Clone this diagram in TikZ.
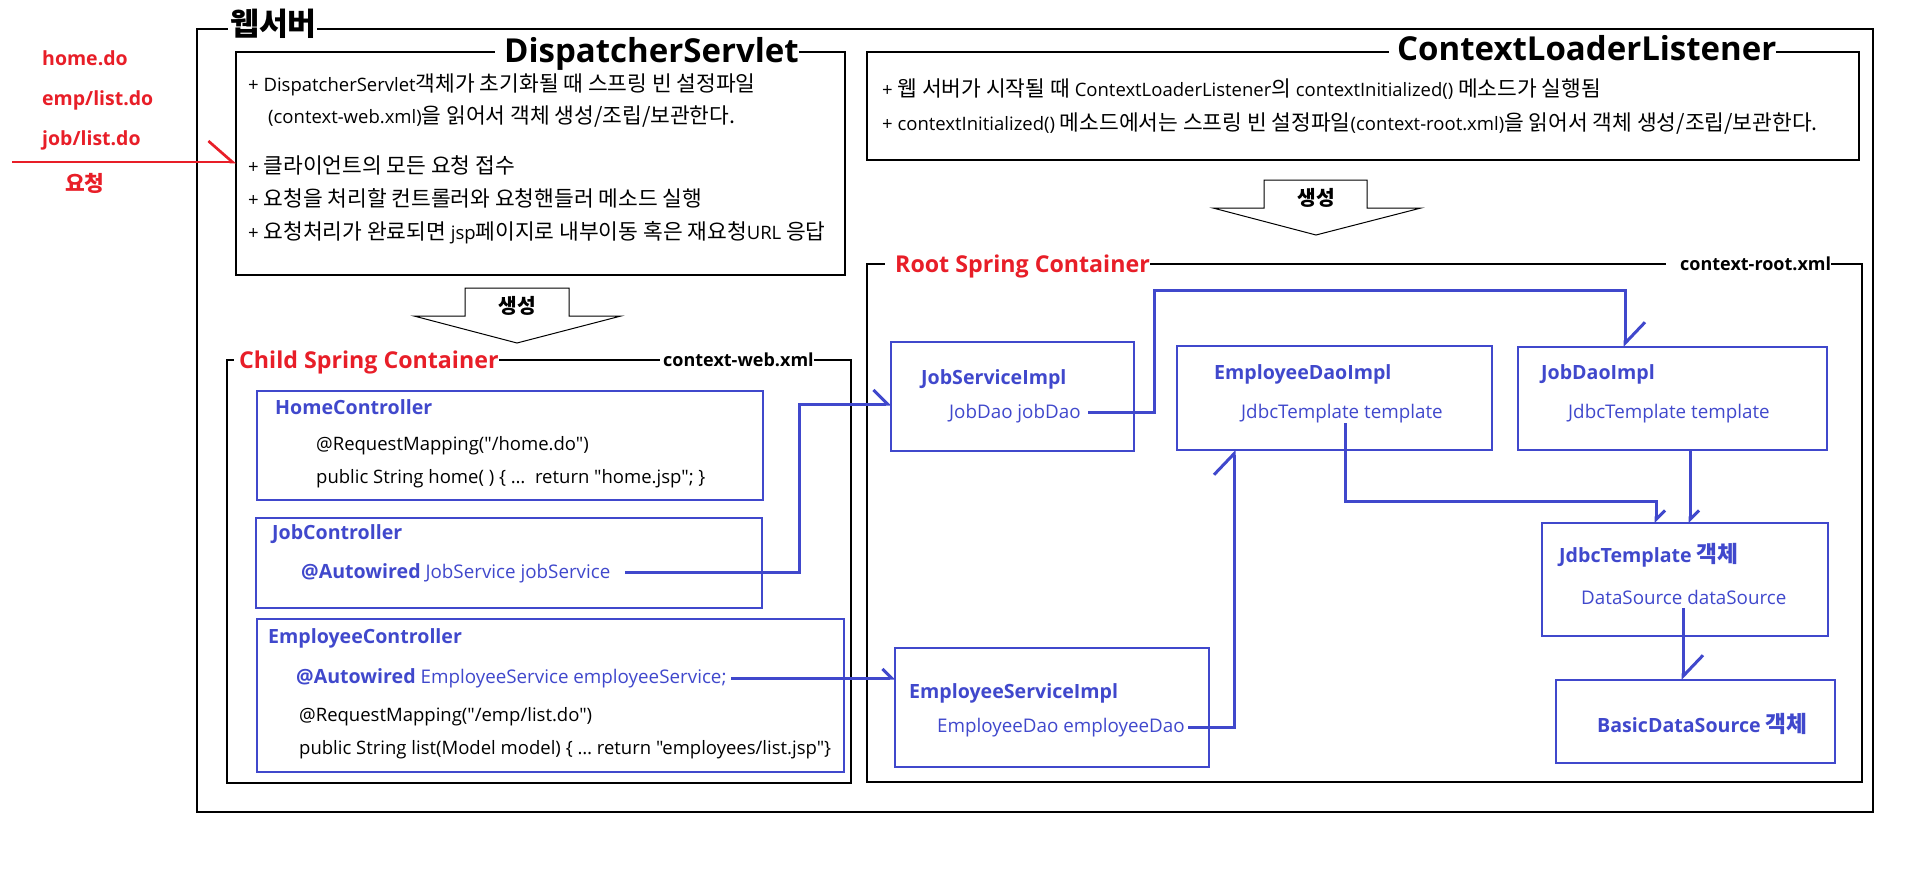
\documentclass[tikz,border=0pt]{standalone}
\usepackage{fontspec}
\setmainfont{Open Sans}[Ligatures=TeXOff]
\newfontfamily\krfont[Scale=1.16]{Noto Sans CJK KR}
\newcommand\K[1]{{\krfont #1}}
\usetikzlibrary{arrows.meta}
\definecolor{bl}{RGB}{64,72,204}
\definecolor{rd}{RGB}{232,30,40}
\begin{document}
\begin{tikzpicture}[x=1pt,y=-1pt,
 rect/.style 2 args={draw, minimum width=#1, minimum height=#2, anchor=north west, inner sep=0pt, outer sep=0pt},
 blk/.style={draw=black, line width=1.5pt},
 bbox/.style={draw=bl, line width=1.6pt},
 txt/.style={anchor=west, inner sep=0pt, text height=13pt, text depth=0pt},
 body/.style={txt, font=\fontsize{18.5}{22}\selectfont},
 bb/.style={txt, text=bl, font=\fontsize{18.8}{22}\selectfont},
 bt/.style={txt, text=bl, text height=14pt, font=\fontsize{19.6}{23}\selectfont\bfseries},
 redt/.style={txt, text=rd, text height=14pt, font=\fontsize{19.5}{23}\selectfont\bfseries},
 captitle/.style={fill=white, inner sep=0pt, anchor=west, text depth=0pt},
 conn/.style={draw=bl, line width=3pt},
 barbL/.style={-{Straight Barb[harpoon,length=21pt,width=40pt]}},
 barbM/.style={-{Straight Barb[harpoon,length=14pt,width=28pt]}},
 barbS/.style={-{Straight Barb[harpoon,length=9pt,width=18pt]}},
 gen/.style={draw=black, line width=1pt, fill=white},
 aw/.style={font=\fontsize{17.5}{21}\selectfont\bfseries}
]
\useasboundingbox (0,0) rectangle (1907,873);

% ---------- left request labels
\node[redt] (home) at (42,58) {home.do};
\node[redt] (emp) at (42,98) {emp/list.do};
\node[redt] (job) at (42,138) {job/list.do};
\node[redt, font=\fontsize{18.5}{22}\selectfont\bfseries] (req) at (65,184) {\K{요청}};
\coordinate (reqs) at (12,162);

% ---------- outer web server box
\node[rect={1676}{783}, blk] (web) at (197,29) {};
\node[captitle, text height=20pt, font=\fontsize{27}{30}\selectfont\bfseries] (webt) at (228,25) {\hspace{2pt}\K{웹서버}\hspace{6pt}};

% ---------- DispatcherServlet
\node[rect={609}{223}, blk] (ds) at (236,52) {};
\node[captitle, text height=24pt, font=\fontsize{33}{36}\selectfont\bfseries] (dst) at (495,50) {\hspace{9pt}DispatcherServlet\hspace{22pt}};
\node[body] (ds1) at (248,85) {+ DispatcherServlet\K{객체가 초기화될 때 스프링 빈 설정파일}};
\node[body] (ds2) at (268,117) {(context-web.xml)\K{을 읽어서 객체 생성/조립/보관한다.}};
\node[body] (ds3) at (248,167) {+ \K{클라이언트의 모든 요청 접수}};
\node[body] (ds4) at (248,200) {+ \K{요청을 처리할 컨트롤러와 요청핸들러 메소드 실행}};
\node[body] (ds5) at (248,233) {+ \K{요청처리가 완료되면} jsp\K{페이지로 내부이동 혹은 재요청}URL \K{응답}};

% ---------- ContextLoaderListener
\node[rect={992}{108}, blk] (cl) at (867,52) {};
\node[captitle, text height=24pt, font=\fontsize{33}{36}\selectfont\bfseries] (clt) at (1389,48.5) {\hspace{8pt}ContextLoaderListener\hspace{12pt}};
\node[body] (cl1) at (882,90) {+ \K{웹 서버가 시작될 때} ContextLoaderListener\K{의} contextInitialized() \K{메소드가 실행됨}};
\node[body] (cl2) at (882,124) {+ contextInitialized() \K{메소드에서는 스프링 빈 설정파일}(context-root.xml)\K{을 읽어서 객체 생성/조립/보관한다.}};

% ---------- creation arrows
\draw[gen] (465,288) -- (569,288) -- (569,316) -- (621,316) -- (517,343) -- (414,316) -- (465,316) -- cycle;
\node[aw] (gen1) at (517,306) {\K{생성}};
\draw[gen] (1264,180) -- (1367,180) -- (1367,208) -- (1421,208) -- (1316,235) -- (1213,208) -- (1264,208) -- cycle;
\node[aw] (gen2) at (1316,198) {\K{생성}};

% ---------- Child Spring Container
\node[rect={624}{423}, blk] (child) at (227,360) {};
\node[captitle, text=rd, text height=16pt, font=\fontsize{23.2}{26}\selectfont\bfseries] (childt) at (234,360) {\hspace{5pt}Child Spring Container\hspace{11pt}};
\node[captitle, text height=13pt, font=\fontsize{18}{22}\selectfont\bfseries] (childx) at (660,360) {\hspace{3pt}context-web.xml\hspace{6pt}};

\node[rect={506}{109}, bbox] (hc) at (257,391) {};
\node[bt] (hct) at (275,407) {HomeController};
\node[body] (hc1) at (316,444) {@RequestMapping("/home.do")};
\node[body] (hc2) at (316,477) {public String home( ) \{ …\ \ return "home.jsp"; \}};

\node[rect={506}{90}, bbox] (jc) at (256,518) {};
\node[bt] (jct) at (272,532) {JobController};
\node[bb] (jc1) at (301,572) {{\fontsize{19.6}{23}\selectfont\bfseries @Autowired} JobService jobService};
\coordinate (c1s) at (625,572);

\node[rect={587}{153}, bbox] (ec) at (257,619) {};
\node[bt] (ect) at (268,636) {EmployeeController};
\node[bb] (ec1) at (296,677) {{\fontsize{19.6}{23}\selectfont\bfseries @Autowired} EmployeeService employeeService;};
\node[body] (ec2) at (299,715) {@RequestMapping("/emp/list.do")};
\node[body] (ec3) at (299,748) {public String list(Model model) \{ … return "employees/list.jsp"\}};
\coordinate (c2s) at (731,678);

% ---------- Root Spring Container
\node[rect={995}{518}, blk] (root) at (867,264) {};
\node[captitle, text=rd, text height=16pt, font=\fontsize{23.2}{26}\selectfont\bfseries] (roott) at (885,264) {\hspace{10pt}Root Spring Container\hspace{20pt}};
\node[captitle, text height=13pt, font=\fontsize{18}{22}\selectfont\bfseries] (rootx) at (1666,264) {\hspace{14pt}context-root.xml\hspace{11pt}};

\node[rect={243}{109}, bbox] (jsi) at (891,342) {};
\node[bt] (jsit) at (921,377) {JobServiceImpl};
\node[bb] (jsi1) at (949,412) {JobDao jobDao};
\coordinate (c3s) at (1088,412);

\node[rect={315}{104}, bbox] (edi) at (1177,346) {};
\node[bt] (edit) at (1214,372) {EmployeeDaoImpl};
\node[bb] (edi1) at (1241,412) {JdbcTemplate template};
\coordinate (c5s) at (1345,423);

\node[rect={309}{103}, bbox] (jdi) at (1518,347) {};
\node[bt] (jdit) at (1541,372) {JobDaoImpl};
\node[bb] (jdi1) at (1568,412) {JdbcTemplate template};

\node[rect={286}{113}, bbox] (jt) at (1542,523) {};
\node[bt] (jtt) at (1559,555) {JdbcTemplate \K{객체}};
\node[bb] (jt1) at (1581,598) {DataSource dataSource};
\coordinate (c7s) at (1683,608);

\node[rect={279}{83}, bbox] (bds) at (1556,680) {};
\node[bt] (bdst) at (1597,725) {BasicDataSource \K{객체}};

\node[rect={314}{119}, bbox] (esi) at (895,648) {};
\node[bt] (esit) at (909,691) {EmployeeServiceImpl};
\node[bb] (esi1) at (937,726) {EmployeeDao employeeDao};
\coordinate (c4s) at (1188,727);

% ---------- connectors
\draw[line width=2.7pt, rd, -{Straight Barb[harpoon,length=24pt,width=42pt]}] (reqs) -- (reqs -| ds.west);
\draw[conn, barbM] (c1s) -| (799,404) -- (jsi.west |- 0,404);
\draw[conn, barbS] (c2s) -- (esi.west |- c2s);
\draw[conn, barbL] (c3s) -| (1154,290) -| (1625,0 |- jdi.north);
\draw[conn, barbL] (c4s) -| (1234,0 |- edi.south);
\draw[conn, barbS] (c5s) |- (1656,501) -- (1656,0 |- jt.north);
\draw[conn, barbS] (1690,0 |- jdi.south) -- (1690,0 |- jt.north);
\draw[conn, barbL] (c7s) -- (1683,0 |- bds.north);
\end{tikzpicture}
\end{document}
